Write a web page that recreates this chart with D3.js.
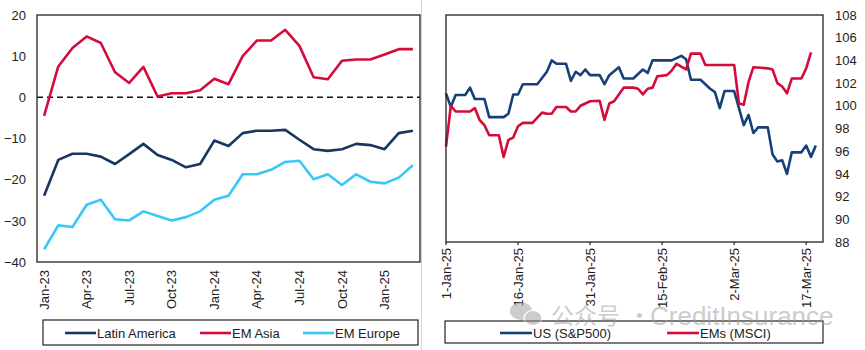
<!DOCTYPE html>
<html><head><meta charset="utf-8">
<script src="https://cdn.jsdelivr.net/npm/d3@7"></script>
<style>body{margin:0;background:#fff}svg{display:block;font-family:"Liberation Sans",Arial,sans-serif}</style>
</head><body><svg id="c" width="865" height="350"></svg>
<script>
// ---------- Left chart data ----------
const months = ["Jan-23","Feb-23","Mar-23","Apr-23","May-23","Jun-23","Jul-23","Aug-23","Sep-23","Oct-23","Nov-23","Dec-23",
  "Jan-24","Feb-24","Mar-24","Apr-24","May-24","Jun-24","Jul-24","Aug-24","Sep-24","Oct-24","Nov-24","Dec-24",
  "Jan-25","Feb-25","Mar-25"];
const leftTicks = ["Jan-23","Apr-23","Jul-23","Oct-23","Jan-24","Apr-24","Jul-24","Oct-24","Jan-25"];
const latinAmerica = [-23.9,-15.2,-13.7,-13.7,-14.4,-16.2,-13.8,-11.3,-14,-15.2,-17,-16.2,-10.5,-11.8,-8.7,-8.1,-8.1,-7.9,-10.3,-12.6,-13,-12.6,-11.3,-11.6,-12.6,-8.7,-8.1];
const emAsia = [-4.5,7.5,12,14.8,13.2,6.1,3.5,7.4,0.2,1,1,1.7,4.5,3.2,10,13.8,13.8,16.4,12.5,4.9,4.4,8.9,9.2,9.2,10.4,11.7,11.7];
const emEurope = [-36.9,-31.1,-31.5,-26.1,-24.9,-29.6,-29.9,-27.7,-28.8,-29.9,-29.1,-27.7,-24.9,-23.9,-18.7,-18.7,-17.6,-15.7,-15.4,-19.9,-18.7,-21.3,-18.7,-20.5,-20.9,-19.5,-16.5];
const leftYTicks = [20,10,0,-10,-20,-30,-40];

// ---------- Right chart data ----------
const usDates = ["2025-01-01","2025-01-02","2025-01-03","2025-01-05","2025-01-06","2025-01-07","2025-01-09","2025-01-10","2025-01-13","2025-01-14","2025-01-15","2025-01-16","2025-01-17","2025-01-20","2025-01-22","2025-01-23","2025-01-24","2025-01-26","2025-01-27","2025-01-28","2025-01-29","2025-01-30","2025-01-31","2025-02-02","2025-02-03","2025-02-04","2025-02-06","2025-02-07","2025-02-09","2025-02-11","2025-02-12","2025-02-13","2025-02-17","2025-02-19","2025-02-20","2025-02-21","2025-02-23","2025-02-25","2025-02-26","2025-02-27","2025-02-28","2025-03-02","2025-03-04","2025-03-05","2025-03-06","2025-03-07","2025-03-09","2025-03-10","2025-03-11","2025-03-12","2025-03-13","2025-03-14","2025-03-16","2025-03-17","2025-03-18","2025-03-19"];
const usValues = [101.1,99.9,100.95,100.95,101.6,100.6,100.6,99.0,99.0,99.3,101.0,101.0,101.9,101.9,103.0,104.0,103.7,103.7,102.2,103.0,102.7,103.2,102.7,102.7,101.9,102.7,103.4,102.4,102.4,103.2,102.9,104.0,104.0,104.4,104.1,102.3,102.3,101.5,101.2,99.8,101.3,101.3,98.3,99.2,97.6,98.1,98.1,95.7,95.1,95.2,94.0,95.9,95.9,96.5,95.5,96.5];
const emDates = ["2025-01-01","2025-01-02","2025-01-03","2025-01-06","2025-01-07","2025-01-08","2025-01-09","2025-01-10","2025-01-12","2025-01-13","2025-01-14","2025-01-15","2025-01-16","2025-01-17","2025-01-19","2025-01-21","2025-01-22","2025-01-23","2025-01-24","2025-01-26","2025-01-27","2025-01-28","2025-01-29","2025-01-31","2025-02-02","2025-02-03","2025-02-04","2025-02-05","2025-02-07","2025-02-09","2025-02-10","2025-02-11","2025-02-12","2025-02-13","2025-02-14","2025-02-16","2025-02-17","2025-02-18","2025-02-20","2025-02-21","2025-02-23","2025-02-24","2025-03-02","2025-03-03","2025-03-04","2025-03-05","2025-03-06","2025-03-09","2025-03-10","2025-03-11","2025-03-12","2025-03-13","2025-03-14","2025-03-16","2025-03-17","2025-03-18"];
const emValues = [96.4,100.0,99.5,99.5,99.8,98.75,98.3,97.4,97.4,95.5,97.0,97.2,98.2,98.5,98.5,99.4,99.3,99.3,99.9,99.9,99.5,99.5,100.0,100.4,100.45,98.75,100.2,100.4,101.6,101.6,101.5,101.0,101.5,101.6,102.6,102.7,103.1,103.7,103.2,104.6,104.6,103.6,103.6,100.2,100.1,102.1,103.4,103.3,103.2,102.0,101.7,101.1,102.4,102.4,103.3,104.7];
const rightXTicks = ["2025-01-01","2025-01-16","2025-01-31","2025-02-15","2025-03-02","2025-03-17"];
const rightXLabels = ["1-Jan-25","16-Jan-25","31-Jan-25","15-Feb-25","2-Mar-25","17-Mar-25"];
const rightYTicks = [108,106,104,102,100,98,96,94,92,90,88];

const C = {latam:"#17375e", asia:"#d40b3b", europe:"#36c8f6", us:"#17407a", ems:"#d40b3b"};
const svg = d3.select("#c");
const FS = 13;

// separator
svg.append("line").attr("x1",421.5).attr("x2",421.5).attr("y1",0).attr("y2",350).attr("stroke","#d6d6d6");

// ---------- Left chart ----------
const L = {x0:37, x1:420, y0:15, y1:262};
const xL = d3.scalePoint().domain(months).range([L.x0, L.x1]).padding(0.5);
const yL = d3.scaleLinear().domain([-40,20]).range([L.y1, L.y0]);
const gL = svg.append("g");
gL.append("line").attr("x1",L.x0).attr("x2",L.x1).attr("y1",yL(0)).attr("y2",yL(0))
  .attr("stroke","#111").attr("stroke-width",1.5).attr("stroke-dasharray","6,4");
const lineL = d3.line().x((d,i)=>xL(months[i])).y(d=>yL(d));
[[emEurope,C.europe],[latinAmerica,C.latam],[emAsia,C.asia]].forEach(([s,c])=>{
  gL.append("path").datum(s).attr("d",lineL).attr("fill","none").attr("stroke",c).attr("stroke-width",2.6).attr("stroke-linejoin","round");
});
gL.append("rect").attr("x",L.x0).attr("y",L.y0).attr("width",L.x1-L.x0).attr("height",L.y1-L.y0)
  .attr("fill","none").attr("stroke","#222").attr("stroke-width",1.3);
// y axis
const axYL = d3.axisLeft(yL).tickValues(leftYTicks).tickSize(0).tickPadding(11);
gL.append("g").attr("transform",`translate(${L.x0},0)`).call(axYL)
  .call(g=>g.select(".domain").remove())
  .selectAll("text").attr("font-size",FS).attr("fill","#222").attr("font-family","Liberation Sans, Arial");
// x axis
gL.selectAll("text.xl").data(leftTicks).join("text").attr("class","xl")
  .attr("transform",d=>`translate(${xL(d)},${L.y1+8}) rotate(-90)`)
  .attr("text-anchor","end").attr("dy","0.35em").attr("font-size",FS).attr("fill","#222").text(d=>d);
// legend
gL.append("rect").attr("x",43).attr("y",320).attr("width",375).attr("height",25).attr("fill","#fff").attr("stroke","#222").attr("stroke-width",1.2);
[["Latin America",C.latam,65],["EM Asia",C.asia,200],["EM Europe",C.europe,303]].forEach(([t,c,x])=>{
  gL.append("line").attr("x1",x).attr("x2",x+31).attr("y1",333).attr("y2",333).attr("stroke",c).attr("stroke-width",2.6);
  gL.append("text").attr("x",x+32).attr("y",337.5).attr("font-size",FS).attr("fill","#222").text(t);
});

// ---------- Right chart ----------
const R = {x0:446, x1:823, y0:15, y1:242};
const pd = d3.utcParse("%Y-%m-%d");
const t0 = pd("2025-01-01");
const xR = d3.scaleUtc().domain([t0, new Date(t0.getTime()+78.5*864e5)]).range([R.x0,R.x1]);
const yR = d3.scaleLinear().domain([88,108]).range([R.y1,R.y0]);
const gR = svg.append("g");
const lineR = d3.line().x(d=>xR(d[0])).y(d=>yR(d[1]));
const usData = usDates.map((d,i)=>[pd(d),usValues[i]]);
const emData = emDates.map((d,i)=>[pd(d),emValues[i]]);
gR.append("path").datum(usData).attr("d",lineR).attr("fill","none").attr("stroke",C.us).attr("stroke-width",2.6).attr("stroke-linejoin","round");
gR.append("path").datum(emData).attr("d",lineR).attr("fill","none").attr("stroke",C.ems).attr("stroke-width",2.6).attr("stroke-linejoin","round");
gR.append("rect").attr("x",R.x0).attr("y",R.y0).attr("width",R.x1-R.x0).attr("height",R.y1-R.y0)
  .attr("fill","none").attr("stroke","#222").attr("stroke-width",1.3);
const axYR = d3.axisRight(yR).tickValues(rightYTicks).tickSize(0).tickPadding(12);
gR.append("g").attr("transform",`translate(${R.x1},0)`).call(axYR)
  .call(g=>g.select(".domain").remove())
  .selectAll("text").attr("font-size",FS).attr("fill","#222").attr("font-family","Liberation Sans, Arial");
const tickD = rightXTicks.map(pd);
gR.selectAll("line.xt").data(tickD).join("line").attr("class","xt")
  .attr("x1",d=>xR(d)).attr("x2",d=>xR(d)).attr("y1",R.y1).attr("y2",R.y1+3).attr("stroke","#222").attr("stroke-width",1.2);
gR.selectAll("text.xr").data(tickD).join("text").attr("class","xr")
  .attr("transform",d=>`translate(${xR(d)},${R.y1+6}) rotate(-90)`)
  .attr("text-anchor","end").attr("dy","0.35em").attr("font-size",FS).attr("fill","#222").text((d,i)=>rightXLabels[i]);
gR.append("rect").attr("x",445).attr("y",321).attr("width",378).attr("height",22).attr("fill","#fff").attr("stroke","#222").attr("stroke-width",1.2);
[["US (S&P500)",C.us,500],["EMs (MSCI)",C.ems,667]].forEach(([t,c,x])=>{
  gR.append("line").attr("x1",x).attr("x2",x+32).attr("y1",333).attr("y2",333).attr("stroke",c).attr("stroke-width",2.6);
  gR.append("text").attr("x",x+33).attr("y",337.5).attr("font-size",FS).attr("fill","#222").text(t);
});

// watermark
const wm = svg.append("g").attr("opacity",0.5).attr("fill","#9a9a9a");
wm.append("ellipse").attr("cx",521).attr("cy",311).attr("rx",11).attr("ry",9);
wm.append("ellipse").attr("cx",533).attr("cy",318).attr("rx",9).attr("ry",7.5).attr("stroke","#fff").attr("stroke-width",1.2);
wm.append("text").attr("x",551).attr("y",324).attr("font-size",23)
  .attr("font-family","'Noto Sans CJK SC',sans-serif").text("公众号");
wm.append("text").attr("x",628).attr("y",324).attr("font-size",23)
  .attr("font-family","'Noto Sans CJK SC',sans-serif").text("·");
wm.append("text").attr("x",650).attr("y",325).attr("font-size",26)
  .attr("font-family","'Liberation Sans',Arial,sans-serif").text("CreditInsurance");
</script></body></html>
